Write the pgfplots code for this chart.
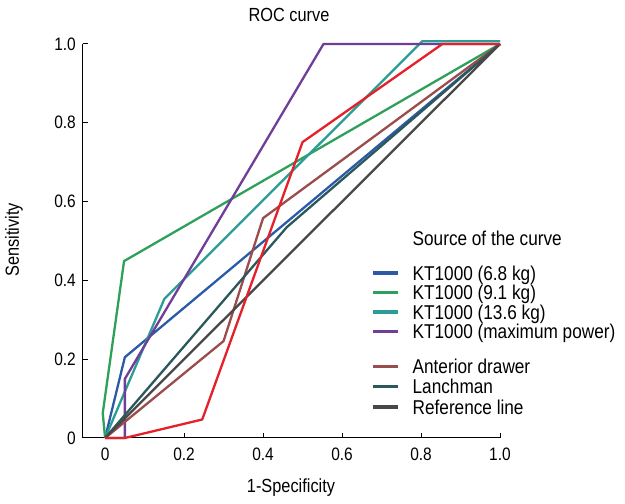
\documentclass[border=0pt]{standalone}
\usepackage{fontspec}
\setmainfont{Liberation Sans}[FakeStretch=0.86]
\usepackage{pgfplots}
\pgfplotsset{compat=1.18}
\definecolor{cBlue}{RGB}{43,90,166}
\definecolor{cGreen}{RGB}{46,160,92}
\definecolor{cTeal}{RGB}{42,158,150}
\definecolor{cPurple}{RGB}{112,62,152}
\definecolor{cBrown}{RGB}{155,76,76}
\definecolor{cLanch}{RGB}{44,88,92}
\definecolor{cRef}{RGB}{72,72,72}
\definecolor{cRed}{RGB}{228,32,40}
\begin{document}
\begin{tikzpicture}
\useasboundingbox (-83pt,-66pt) rectangle (542pt,438pt);
\begin{axis}[
  at={(0pt,0pt)}, anchor=south west,
  scale only axis, width=417pt, height=394pt,
  xmin=-0.056, xmax=1, ymin=0, ymax=1,
  axis lines=left, axis line style={-, line width=1pt, black},
  tick align=inside, major tick length=5pt,
  tick style={line width=1pt, black},
  xtick={0,0.2,0.4,0.6,0.8,1}, xticklabels={0,0.2,0.4,0.6,0.8,1.0},
  ytick={0,0.2,0.4,0.6,0.8,1}, yticklabels={0,0.2,0.4,0.6,0.8,1.0},
  xticklabel style={inner sep=0pt, anchor=north, yshift=-10pt, font=\fontsize{18}{20}\selectfont},
  yticklabel style={inner sep=0pt, anchor=east, xshift=-7pt, font=\fontsize{18}{20}\selectfont},
  clip=false,
  line join=round,
  every axis plot/.append style={line width=2.3pt},
  legend image code/.code={\draw[#1, line width=3.5pt] (0pt,7pt) -- (25pt,7pt);},
  legend style={at={(axis description cs:0.6906,0.5266)}, anchor=north west,
    draw=none, fill=none, inner sep=0pt, row sep=0pt, column sep=13pt,
    font=\fontsize{20}{22}\selectfont,
    nodes={inner sep=0pt, anchor=base west, text height=14.5pt, text depth=5pt}},
  legend cell align=left,
]
\addlegendimage{empty legend}
\addlegendentry[text depth=20.5pt]{Source of the curve}
\addplot[cBlue] coordinates {(0,0) (0.05,0.205) (1,1)};
\addlegendentry{KT1000 (6.8 kg)}
\addplot[cGreen] coordinates {(0,0) (-0.006,0.063) (0.048,0.449) (1,1)};
\addlegendentry{KT1000 (9.1 kg)}
\addplot[cTeal] coordinates {(0,0) (0.15,0.353) (0.803,1.007) (1,1.007)};
\addlegendentry{KT1000 (13.6 kg)}
\addplot[cPurple] coordinates {(0,0) (0.05,0) (0.05,0.15) (0.553,1) (1,1)};
\addlegendentry[text depth=20.5pt]{KT1000 (maximum power)}
\addplot[cBrown] coordinates {(0,0) (0.3,0.246) (0.4,0.558) (1,1)};
\addlegendentry[text depth=5.5pt]{Anterior drawer}
\addplot[cLanch] coordinates {(0,0) (0.46,0.535) (1,1)};
\addlegendentry[text depth=6pt]{Lanchman}
\addplot[cRef] coordinates {(0,0) (1,1)};
\addlegendentry{Reference line}
\addplot[cRed, forget plot] coordinates {(0,0) (0.05,0) (0.246,0.047) (0.5,0.751) (0.854,1) (1,1)};
\end{axis}
\node[anchor=base, font=\fontsize{19}{21}\selectfont] at (206pt,416pt) {ROC curve};
\node[anchor=base, font=\fontsize{19}{21}\selectfont] at (208pt,-54pt) {1-Specificity};
\node[anchor=base, rotate=90, font=\fontsize{19}{21}\selectfont] at (-64pt,198pt) {Sensitivity};
\end{tikzpicture}
\end{document}
